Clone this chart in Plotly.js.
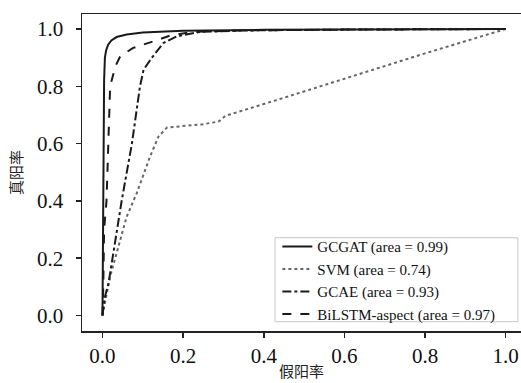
<!DOCTYPE html>
<html>
<head>
<meta charset="utf-8">
<script src="https://cdn.plot.ly/plotly-3.0.1.min.js"></script>
<style>html,body{margin:0;padding:0;background:#fff;}#chart{width:521px;height:383px;}</style>
</head>
<body>
<div id="chart"></div>
<script>
const seriesNames = ["GCGAT (area = 0.99)", "SVM (area = 0.74)", "GCAE (area = 0.93)", "BiLSTM-aspect (area = 0.97)"];

const gcgatFpr = [0, 0.001, 0.002, 0.004, 0.006, 0.009, 0.014, 0.022, 0.035, 0.06, 0.1, 0.2, 0.4, 0.7, 1.0];
const gcgatTpr = [0, 0.3, 0.6, 0.82, 0.9, 0.925, 0.945, 0.96, 0.972, 0.981, 0.988, 0.994, 0.997, 0.999, 1.0];

const svmFpr = [0, 0.019, 0.06, 0.085, 0.118, 0.139, 0.16, 0.2, 0.25, 0.288, 0.305, 0.45, 0.614, 0.8, 1.0];
const svmTpr = [0, 0.136, 0.345, 0.427, 0.555, 0.625, 0.656, 0.662, 0.668, 0.677, 0.697, 0.76, 0.833, 0.915, 1.0];

const gcaeFpr = [0, 0.005, 0.015, 0.048, 0.073, 0.093, 0.102, 0.122, 0.151, 0.184, 0.242, 0.35, 0.6, 1.0];
const gcaeTpr = [0, 0.06, 0.113, 0.404, 0.6, 0.8, 0.858, 0.899, 0.951, 0.974, 0.99, 0.995, 0.998, 1.0];

const bilstmFpr = [0, 0.002, 0.004, 0.01, 0.019, 0.032, 0.044, 0.076, 0.126, 0.168, 0.225, 0.35, 0.6, 1.0];
const bilstmTpr = [0, 0.1, 0.3, 0.4, 0.8, 0.87, 0.905, 0.934, 0.957, 0.977, 0.99, 0.995, 0.998, 1.0];

const xTickVals = [0, 0.2, 0.4, 0.6, 0.8, 1.0];
const xTickText = ["0.0", "0.2", "0.4", "0.6", "0.8", "1.0"];
const yTickVals = [0, 0.2, 0.4, 0.6, 0.8, 1.0];
const yTickText = ["0.0", "0.2", "0.4", "0.6", "0.8", "1.0"];

const traces = [
  {x: gcgatFpr, y: gcgatTpr, name: seriesNames[0], mode: "lines", line: {color: "#1a1a1a", width: 2, dash: "solid"}},
  {x: svmFpr, y: svmTpr, name: seriesNames[1], mode: "lines", line: {color: "#666666", width: 2, dash: "dot"}},
  {x: gcaeFpr, y: gcaeTpr, name: seriesNames[2], mode: "lines", line: {color: "#1a1a1a", width: 2, dash: "dashdot"}},
  {x: bilstmFpr, y: bilstmTpr, name: seriesNames[3], mode: "lines", line: {color: "#1a1a1a", width: 2, dash: "dash"}}
];

const tickFont = {family: "Liberation Serif, Times New Roman, serif", size: 21, color: "#111"};
const titleFont = {family: "Noto Sans CJK SC, sans-serif", size: 15, color: "#222"};

const layout = {
  width: 521, height: 383,
  margin: {l: 82, r: 0, t: 14, b: 52, pad: 0},
  paper_bgcolor: "#fff", plot_bgcolor: "#fff",
  showlegend: true,
  legend: {
    x: 0.445, y: 0.318, xanchor: "left", yanchor: "top",
    bgcolor: "rgba(0,0,0,0)", borderwidth: 0,
    font: {family: "Liberation Serif, Times New Roman, serif", size: 15, color: "#111"},
    tracegroupgap: 0
  },
  shapes: [{
    type: "rect", xref: "paper", yref: "paper",
    x0: 0.4396, x1: 0.993, y0: 0.0293, y1: 0.2943,
    line: {color: "#c8c8c8", width: 1}, fillcolor: "#fff", layer: "above"
  }],
  xaxis: {
    range: [-0.0508, 1.038], tickvals: xTickVals, ticktext: xTickText,
    showgrid: false, zeroline: false, showline: true, linecolor: "#222", linewidth: 1.5, mirror: true,
    ticks: "outside", ticklen: 5, tickwidth: 1.5, tickcolor: "#222",
    tickfont: tickFont,
    title: {text: "假阳率", font: titleFont, standoff: 0}
  },
  yaxis: {
    range: [-0.054, 1.0524], tickvals: yTickVals, ticktext: yTickText,
    showgrid: false, zeroline: false, showline: true, linecolor: "#222", linewidth: 1.5, mirror: false,
    ticks: "outside", ticklen: 5, tickwidth: 1.5, tickcolor: "#222",
    tickfont: tickFont, ticklabelstandoff: 8,
    title: {text: "真阳率", font: titleFont, standoff: 11}
  }
};

Plotly.newPlot("chart", traces, layout, {displayModeBar: false, staticPlot: true});
</script>
</body>
</html>
